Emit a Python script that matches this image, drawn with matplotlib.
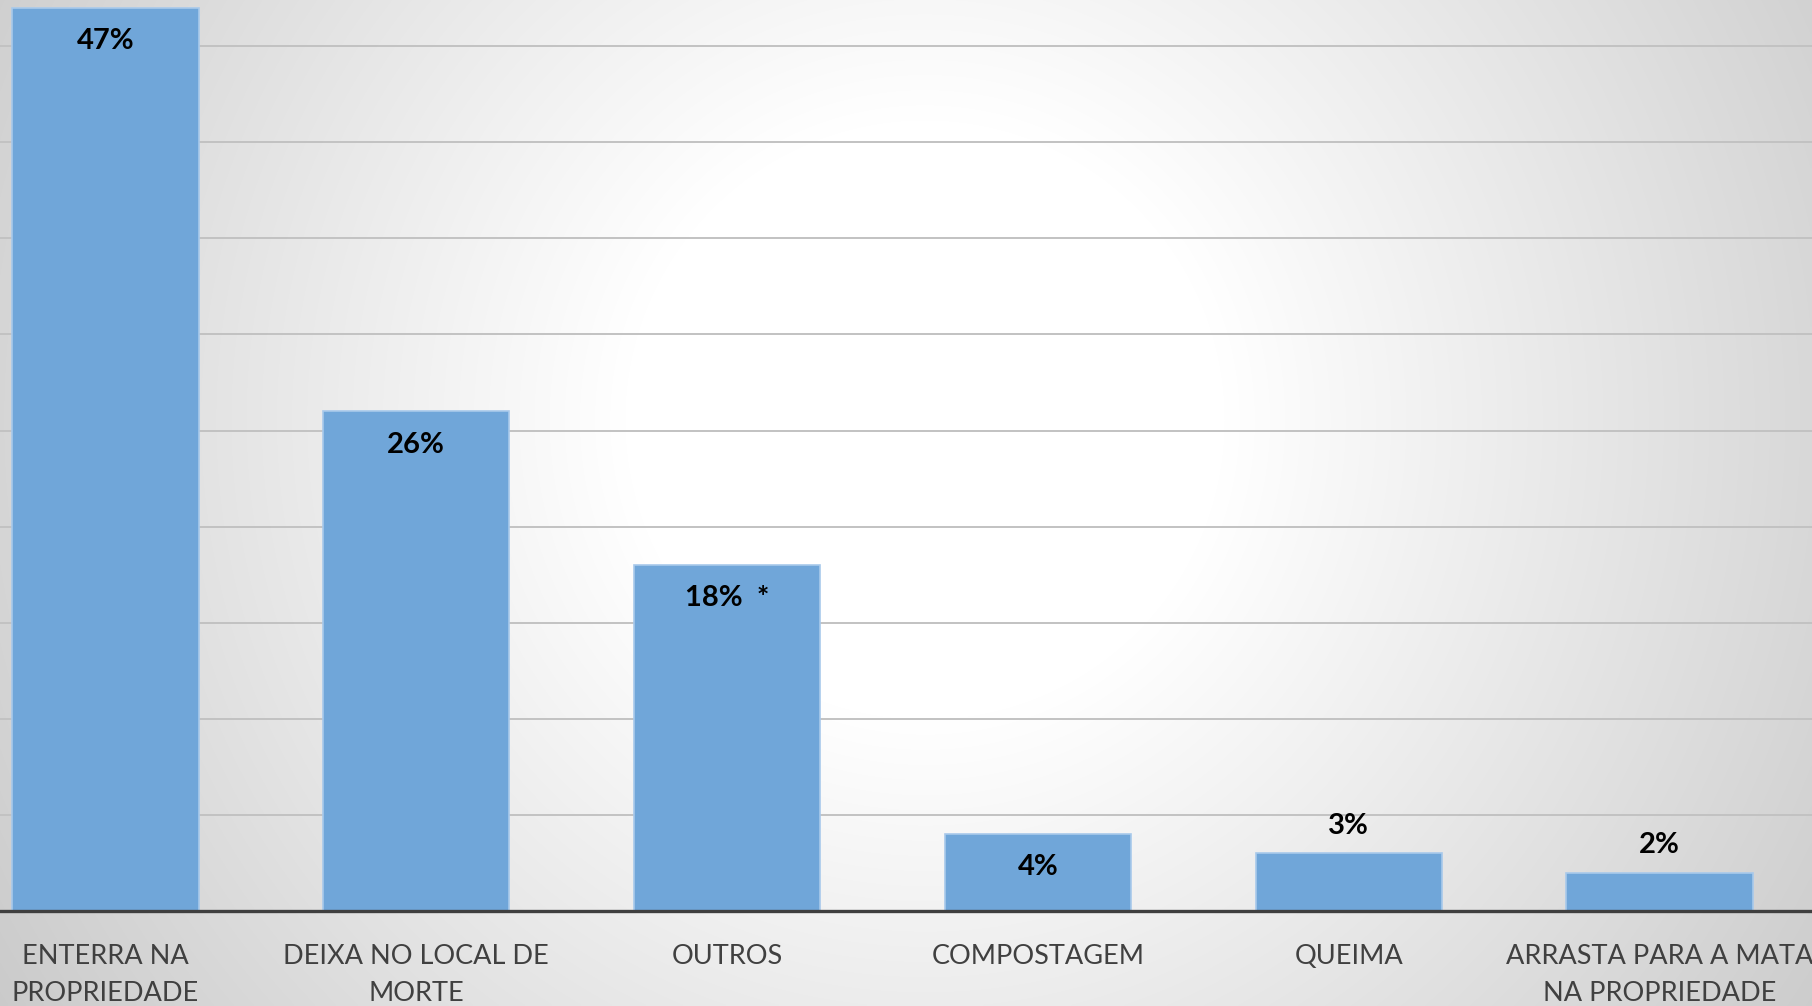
import numpy as np
import matplotlib.pyplot as plt

categories = ["ENTERRA NA\nPROPRIEDADE", "DEIXA NO LOCAL DE\nMORTE", "OUTROS",
              "COMPOSTAGEM", "QUEIMA", "ARRASTA PARA A MATA\nNA PROPRIEDADE"]
percent = [47, 26, 18, 4, 3, 2]
notes = ["", "", "  *", "", "", ""]

W, H = 1812, 1006
fig = plt.figure(figsize=(W / 100, H / 100), dpi=100)

# soft radial background, white around the middle, grey towards the corners
bg = fig.add_axes([0, 0, 1, 1], zorder=-1)
yy, xx = np.mgrid[0:H, 0:W]
d = np.hypot(xx - 925, yy - 420)
shade = 255 - 0.066 * np.clip(d - 300, 0, None)
bg.imshow(np.dstack([shade] * 3).astype(np.uint8), aspect="auto",
          extent=[0, 1, 0, 1])
bg.axis("off")

ax = fig.add_axes([0, 95 / H, 1, 911 / H])
ax.set_facecolor("none")

x = np.arange(len(categories))
ax.bar(x, percent, width=0.6, color="#70A6D9", edgecolor="#A8C9EB",
       linewidth=1.2, zorder=3)

ax.set_xlim(-0.339, 5.49)
ax.set_ylim(0, 47.4)
ax.set_yticks(np.arange(0, 46, 5))
ax.yaxis.grid(True, color="#C2C2C2", linewidth=1.4, zorder=0)
ax.set_axisbelow(True)
ax.tick_params(axis="y", left=False, labelleft=False)

ax.set_xticks(x)
ax.set_xticklabels(categories, fontsize=19.5, family="Lato", color="#404040",
                   linespacing=1.6)
ax.tick_params(axis="x", length=0, pad=24)

for s in ["top", "left", "right"]:
    ax.spines[s].set_visible(False)
ax.spines["bottom"].set_color("#3F3F3F")
ax.spines["bottom"].set_linewidth(2.4)
ax.spines["bottom"].set_zorder(4)

# value labels: inside the tall bars, above the short ones
for xi, v, n in zip(x, percent, notes):
    dy = -24 if v >= 4 else 20
    ax.annotate(f"{v}%{n}", (xi, v), xytext=(0, dy), textcoords="offset points",
                ha="center", va="center", fontsize=21, fontweight="bold",
                family="Lato", color="black", zorder=5)

fig.savefig("out.png", dpi=100)
